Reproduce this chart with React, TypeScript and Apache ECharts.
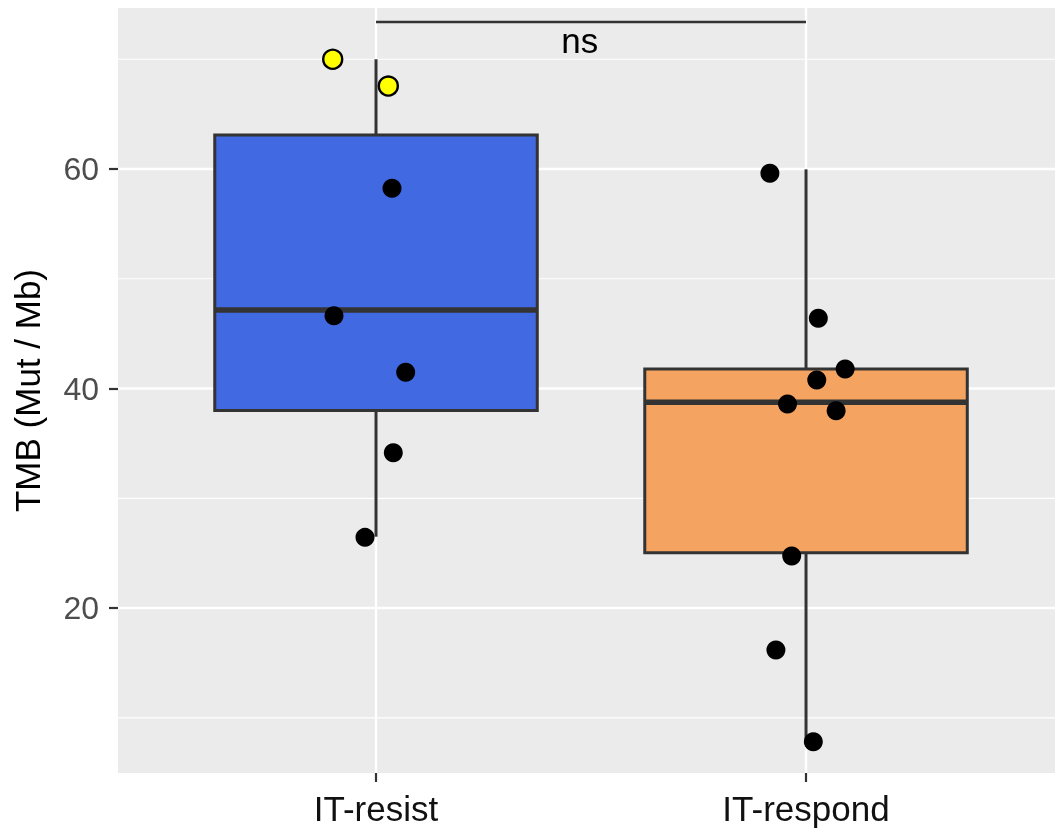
import React, { useEffect, useRef } from 'react';
import * as echarts from 'echarts';

// Groups on the x axis and their numeric positions
const categories = ['IT-resist', 'IT-respond'];
const categoryPositions = [1, 2];
const boxColors = ['#4169E1', '#F4A460'];

// Box statistics per group: [lower whisker, Q1, median, Q3, upper whisker]
const resistStats = [26.5, 38.0, 47.15, 63.1, 70.0];
const respondStats = [7.82, 25.04, 38.74, 41.78, 59.97];

// Jittered sample points: [x position, TMB]
const resistPoints = [
  [1.0372, 58.24],
  [0.9023, 46.63],
  [1.069, 41.48],
  [1.0402, 34.15],
  [0.9744, 26.44],
];
const resistHighlighted = [
  [0.8993, 70.0],
  [1.0286, 67.56],
];
const respondPoints = [
  [1.916, 59.61],
  [2.0286, 46.4],
  [2.091, 41.78],
  [2.025, 40.77],
  [1.957, 38.59],
  [2.07, 37.98],
  [1.9667, 24.74],
  [1.93, 16.17],
  [2.017, 7.82],
];

// Axis ticks and grid
const yTicks = [20, 40, 60];
const yMinorGrid = [10, 30, 50, 70];
const yRange = [4.97, 74.67];
const xRange = [0.4, 2.579];

// Significance bracket between the two groups
const bracketFrom = 1;
const bracketTo = 2;
const bracketY = 73.4;
const bracketLabel = 'ns';
const bracketLabelX = 1.474;
const bracketLabelY = 71.7;

const FONT = '"Liberation Sans", Arial, Helvetica, sans-serif';
const INK = '#333333';
const TICK_LEN = 9;

const hLineSeries = (values: number[], width: number) => ({
  type: 'custom',
  z: 1,
  silent: true,
  clip: true,
  data: values.map((v) => [xRange[0], v]),
  renderItem: (_p: any, api: any) => {
    const a = api.coord([xRange[0], api.value(1)]);
    const b = api.coord([xRange[1], api.value(1)]);
    return {
      type: 'line',
      shape: { x1: a[0], y1: a[1], x2: b[0], y2: b[1] },
      style: { stroke: '#FFFFFF', lineWidth: width },
    };
  },
});

const vLineSeries = (values: number[], width: number) => ({
  type: 'custom',
  z: 1,
  silent: true,
  clip: true,
  data: values.map((v) => [v, yRange[0]]),
  renderItem: (_p: any, api: any) => {
    const a = api.coord([api.value(0), yRange[0]]);
    const b = api.coord([api.value(0), yRange[1]]);
    return {
      type: 'line',
      shape: { x1: a[0], y1: a[1], x2: b[0], y2: b[1] },
      style: { stroke: '#FFFFFF', lineWidth: width },
    };
  },
});

export default function App() {
  const ref = useRef<HTMLDivElement>(null);

  useEffect(() => {
    if (!ref.current) return;
    const chart = echarts.init(ref.current, undefined, { renderer: 'svg' });
    const stats = [resistStats, respondStats];
    const boxData = stats.map((s, i) => [categoryPositions[i], ...s]);
    const halfWidth = 0.375;

    chart.setOption({
      animation: false,
      textStyle: { fontFamily: FONT },
      grid: {
        left: 118,
        right: 0,
        top: 8,
        bottom: 56,
        show: true,
        backgroundColor: '#EBEBEB',
        borderWidth: 0,
      },
      xAxis: {
        type: 'value',
        min: xRange[0],
        max: xRange[1],
        splitLine: { show: false },
        axisLine: { show: false },
        axisTick: {
          show: true,
          customValues: categoryPositions,
          length: TICK_LEN,
          lineStyle: { color: INK, width: 2.2 },
        },
        axisLabel: {
          customValues: categoryPositions,
          formatter: (v: number) => {
            const i = categoryPositions.indexOf(v);
            return i >= 0 ? categories[i] : '';
          },
          color: '#111111',
          fontSize: 35,
          margin: 18,
          fontFamily: FONT,
        },
      },
      yAxis: {
        type: 'value',
        min: yRange[0],
        max: yRange[1],
        name: 'TMB (Mut / Mb)',
        nameLocation: 'middle',
        nameGap: 73,
        nameTextStyle: { color: '#000000', fontSize: 35, fontFamily: FONT },
        splitLine: { show: false },
        axisLine: { show: false },
        axisTick: {
          show: true,
          customValues: yTicks,
          length: TICK_LEN,
          lineStyle: { color: INK, width: 2.2 },
        },
        axisLabel: {
          customValues: yTicks,
          color: '#4D4D4D',
          fontSize: 32,
          margin: 19,
          fontFamily: FONT,
        },
      },
      series: [
        hLineSeries(yMinorGrid, 1.2),
        hLineSeries(yTicks, 2.4),
        vLineSeries(categoryPositions, 2.4),
        {
          type: 'custom',
          z: 2,
          silent: true,
          data: boxData,
          renderItem: (params: any, api: any) => {
            const x = api.value(0);
            const lo = api.value(1);
            const q1 = api.value(2);
            const med = api.value(3);
            const q3 = api.value(4);
            const hi = api.value(5);
            const pLo = api.coord([x, lo]);
            const pQ1 = api.coord([x, q1]);
            const pQ3 = api.coord([x, q3]);
            const pHi = api.coord([x, hi]);
            const tl = api.coord([x - halfWidth, q3]);
            const br = api.coord([x + halfWidth, q1]);
            const mL = api.coord([x - halfWidth, med]);
            const mR = api.coord([x + halfWidth, med]);
            const lineStyle = { stroke: INK, lineWidth: 3 };
            return {
              type: 'group',
              children: [
                {
                  type: 'line',
                  shape: { x1: pLo[0], y1: pLo[1], x2: pQ1[0], y2: pQ1[1] },
                  style: lineStyle,
                },
                {
                  type: 'line',
                  shape: { x1: pQ3[0], y1: pQ3[1], x2: pHi[0], y2: pHi[1] },
                  style: lineStyle,
                },
                {
                  type: 'rect',
                  shape: { x: tl[0], y: tl[1], width: br[0] - tl[0], height: br[1] - tl[1] },
                  style: { fill: boxColors[params.dataIndex], stroke: INK, lineWidth: 3 },
                },
                {
                  type: 'line',
                  shape: { x1: mL[0], y1: mL[1], x2: mR[0], y2: mR[1] },
                  style: { stroke: INK, lineWidth: 5.5 },
                },
              ],
            };
          },
        },
        {
          type: 'scatter',
          z: 3,
          silent: true,
          symbol: 'circle',
          symbolSize: 19,
          itemStyle: { color: '#000000', opacity: 1 },
          data: [...resistPoints, ...respondPoints],
        },
        {
          type: 'scatter',
          z: 3,
          silent: true,
          symbol: 'circle',
          symbolSize: 19,
          itemStyle: { color: '#FFFF00', borderColor: '#000000', borderWidth: 2.4, opacity: 1 },
          data: resistHighlighted,
        },
        {
          type: 'custom',
          z: 4,
          silent: true,
          clip: false,
          data: [[bracketFrom, bracketY, bracketTo]],
          renderItem: (_p: any, api: any) => {
            const a = api.coord([api.value(0), api.value(1)]);
            const b = api.coord([api.value(2), api.value(1)]);
            const t = api.coord([bracketLabelX, bracketLabelY]);
            return {
              type: 'group',
              children: [
                {
                  type: 'line',
                  shape: { x1: a[0], y1: a[1], x2: b[0], y2: b[1] },
                  style: { stroke: INK, lineWidth: 2.5 },
                },
                {
                  type: 'text',
                  x: t[0],
                  y: t[1],
                  style: {
                    text: bracketLabel,
                    fill: '#000000',
                    fontSize: 35,
                    fontFamily: FONT,
                    textAlign: 'center',
                    textVerticalAlign: 'middle',
                  },
                },
              ],
            };
          },
        },
      ],
    });

    return () => {
      chart.dispose();
    };
  }, []);

  return (
    <div
      ref={ref}
      style={{ position: 'fixed', left: 0, top: 0, width: 1055, height: 829 }}
    />
  );
}
